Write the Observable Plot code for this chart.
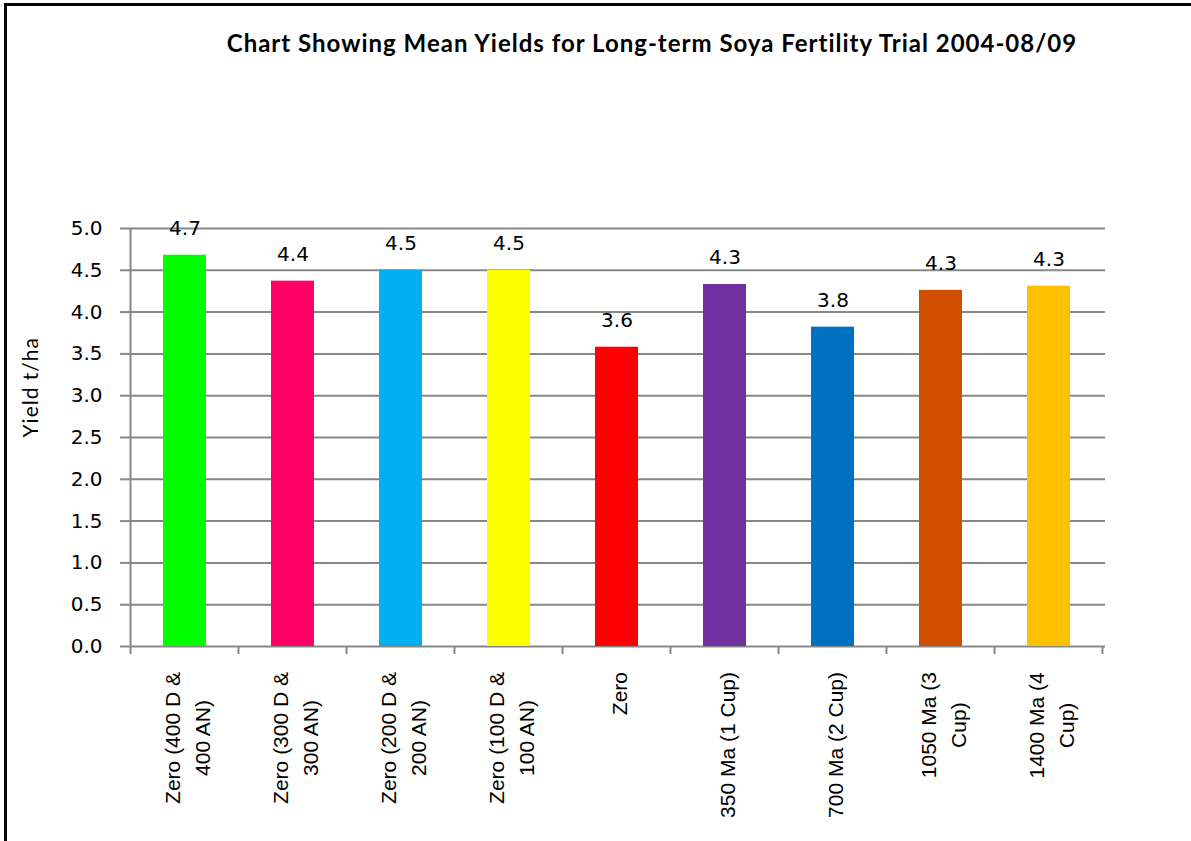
<!DOCTYPE html>
<html>
<head>
<meta charset="utf-8">
<script src="https://cdn.jsdelivr.net/npm/d3@7"></script>
<script src="https://cdn.jsdelivr.net/npm/@observablehq/plot@0.6"></script>
<style>
  html, body { margin: 0; padding: 0; background: #fff; }
  body { width: 1191px; height: 841px; overflow: hidden; position: relative; }
  #frame { position: absolute; left: 4px; top: 3px; width: 1400px; height: 1000px;
           border-left: 3px solid #000; border-top: 3px solid #000; box-sizing: border-box; }
  #title { position: absolute; left: 0; width: 1304px; top: 31px; text-align: center;
           font: bold 24px Lato, "Open Sans", sans-serif; letter-spacing: 1px; line-height: 24px;
           color: #000; white-space: nowrap; }
  #chart { position: absolute; left: 0; top: 0; }
</style>
</head>
<body>
<div id="frame"></div>
<div id="chart"></div>
<div id="title">Chart Showing Mean Yields for Long-term Soya Fertility Trial 2004-08/09</div>
<script>
// ---- data ----
const categories = [
  "Zero (400 D &\n400 AN)",
  "Zero (300 D &\n300 AN)",
  "Zero (200 D &\n200 AN)",
  "Zero (100 D &\n100 AN)",
  "Zero",
  "350 Ma (1 Cup)",
  "700 Ma (2 Cup)",
  "1050 Ma (3\nCup)",
  "1400 Ma (4\nCup)"
];
const yields = [4.68, 4.37, 4.50, 4.50, 3.58, 4.33, 3.82, 4.26, 4.31];
const valueLabels = ["4.7", "4.4", "4.5", "4.5", "3.6", "4.3", "3.8", "4.3", "4.3"];
const barColors = ["#00ff00", "#ff0066", "#00b0f0", "#ffff00", "#ff0000", "#7030a0", "#0070c0", "#d04e00", "#ffc000"];
const yTicks = [0, 0.5, 1, 1.5, 2, 2.5, 3, 3.5, 4, 4.5, 5];
const yLabel = "Yield t/ha";

const rows = categories.map((c, i) => ({cat: c, value: yields[i], label: valueLabels[i], color: barColors[i]}));
const gridColor = "#878787";

// boundary tick marks and left axis line, drawn from the band scale
function categoryEdges(index, scales) {
  const x = scales.x, y = scales.y;
  const step = x.step ? x.step() : scales.scales.x.step;
  const bw = x.bandwidth ? x.bandwidth() : scales.scales.x.bandwidth;
  const off = (step - bw) / 2;
  const edges = x.domain().map(d => x(d) - off);
  edges.push(edges[edges.length - 1] + step);
  const y0 = y(0), yTop = y(d3.max(yTicks));
  const g = d3.create("svg:g").attr("stroke", gridColor).attr("stroke-width", 2);
  edges.forEach((e, i) => {
    g.append("line").attr("x1", e).attr("x2", e)
      .attr("y1", i === 0 ? yTop : y0).attr("y2", y0 + 8);
  });
  return g.node();
}

const plot = Plot.plot({
  width: 1191,
  height: 841,
  marginLeft: 129,
  marginRight: 86,
  marginTop: 228,
  marginBottom: 195,
  style: {background: "transparent", overflow: "visible"},
  x: {domain: categories, paddingInner: 0.6, paddingOuter: 0.3, axis: null},
  y: {domain: [0, 5], axis: null},
  color: {type: "identity"},
  marks: [
    Plot.gridY(yTicks, {stroke: gridColor, strokeOpacity: 1, strokeWidth: 2}),
    Plot.barY(rows, {x: "cat", y: "value", fill: "color"}),
    categoryEdges,
    Plot.axisY(yTicks, {
      tickFormat: d3.format(".1f"), tickSize: 9, tickPadding: 18,
      stroke: gridColor, strokeWidth: 2, fontSize: 20, fontFamily: "DejaVu Sans",
      fill: "#000", label: null
    }),
    Plot.text(rows, {
      x: "cat", y: "value", text: "label", dy: -27,
      fontSize: 20, fontFamily: "DejaVu Sans", fill: "#000"
    }),
    Plot.text(rows, {
      x: "cat", text: "cat", frameAnchor: "bottom", rotate: -90,
      textAnchor: "middle", lineAnchor: "middle", lineHeight: 1.45,
      fontSize: 21, fontFamily: "Liberation Sans", fill: "#000", className: "xlab"
    }),
    Plot.text([yLabel], {
      text: d => d, frameAnchor: "left", rotate: -90, dx: -98,
      fontSize: 21, fontFamily: "Lato", fill: "#000", className: "ylab"
    })
  ]
});
document.getElementById("chart").appendChild(plot);
plot.querySelectorAll(".ylab text").forEach(t => t.setAttribute("letter-spacing", "1"));

// place each rotated category label so that its top sits just below the axis
const labelTop = plot.scale("y").apply(0) + 26;
const svgTop = plot.getBoundingClientRect().top;
plot.querySelectorAll(".xlab text").forEach(t => {
  const r = t.getBoundingClientRect();
  const shift = labelTop - (r.top - svgTop);
  t.setAttribute("transform", `translate(0,${shift}) ` + (t.getAttribute("transform") || ""));
});
</script>
</body>
</html>
